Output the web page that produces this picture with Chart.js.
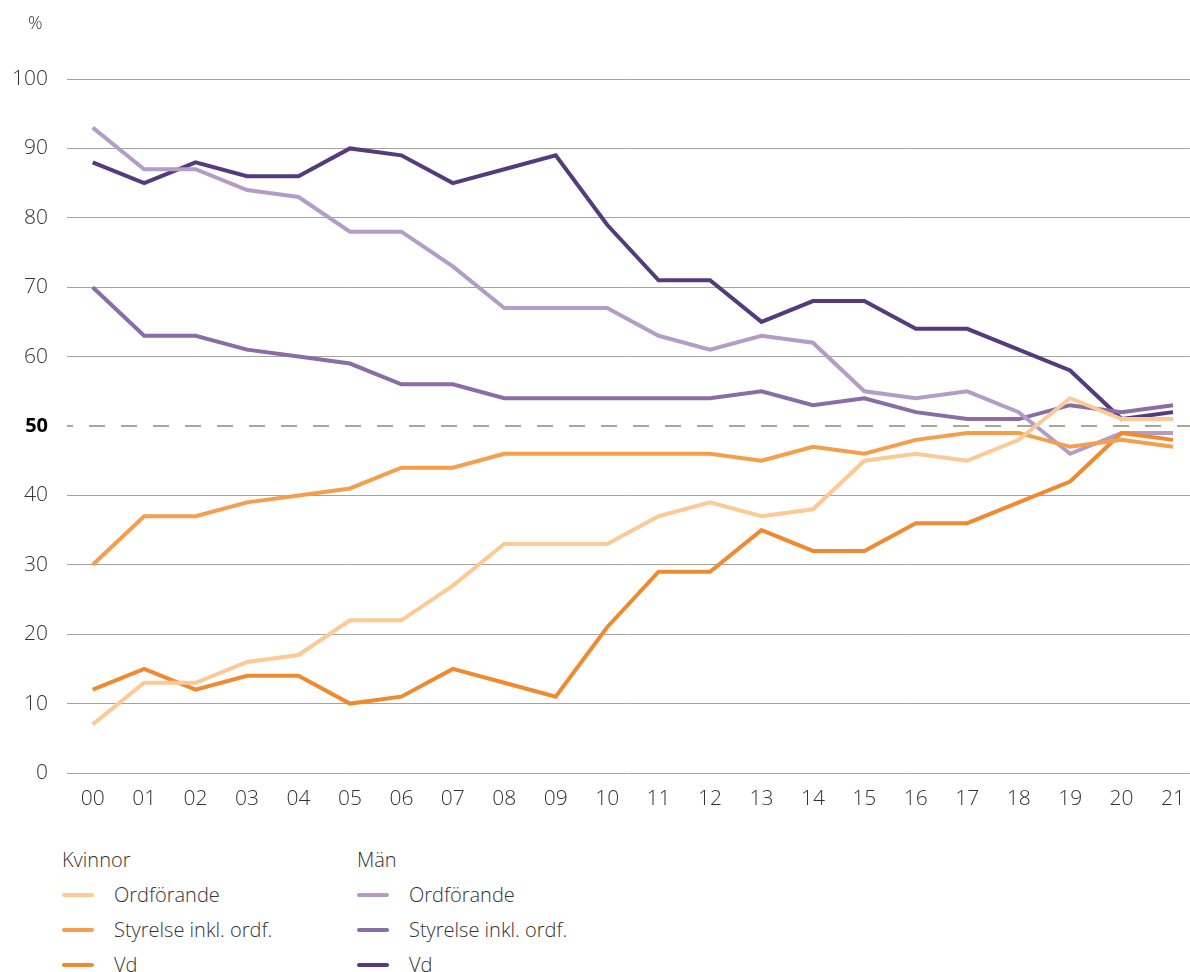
<!DOCTYPE html>
<html lang="sv">
<head>
<meta charset="utf-8">
<title>Andel kvinnor och män</title>
<script src="https://cdn.jsdelivr.net/npm/chart.js@4/dist/chart.umd.min.js"></script>
<style>
    body { margin: 0; background: #fff; font-family: 'Open Sans', sans-serif; font-weight: 300; color: #333; overflow: hidden; }
    #wrap { position: relative; width: 1190px; height: 972px; }
    #chartBox { position: absolute; left: 0; top: 0; width: 1190px; height: 821px; }
    #unit { position: absolute; left: 28px; top: 10px; font-size: 18px; }
    .legendCol { position: absolute; top: 846px; font-size: 20px; }
    .legendCol .head { height: 28px; line-height: 28px; margin-bottom: 3px; }
    .legendCol .item { height: 35px; line-height: 35px; display: flex; align-items: center; }
    .legendCol .swatch { width: 32px; height: 4px; border-radius: 2px; margin-right: 20px; }
</style>
</head>
<body>
<div id="wrap">
    <div id="chartBox"><canvas id="genderChart"></canvas></div>
    <div id="unit">%</div>
    <div class="legendCol" id="legendKvinnor" style="left:62px"></div>
    <div class="legendCol" id="legendMan" style="left:357px"></div>
</div>
<script>
const years = ['00', '01', '02', '03', '04', '05', '06', '07', '08', '09', '10',
               '11', '12', '13', '14', '15', '16', '17', '18', '19', '20', '21'];

const kvinnorOrdforande = [7, 13, 13, 16, 17, 22, 22, 27, 33, 33, 33, 37, 39, 37, 38, 45, 46, 45, 48, 54, 51, 51];
const kvinnorStyrelse   = [30, 37, 37, 39, 40, 41, 44, 44, 46, 46, 46, 46, 46, 45, 47, 46, 48, 49, 49, 47, 48, 47];
const kvinnorVd         = [12, 15, 12, 14, 14, 10, 11, 15, 13, 11, 21, 29, 29, 35, 32, 32, 36, 36, 39, 42, 49, 48];
const manOrdforande     = [93, 87, 87, 84, 83, 78, 78, 73, 67, 67, 67, 63, 61, 63, 62, 55, 54, 55, 52, 46, 49, 49];
const manStyrelse       = [70, 63, 63, 61, 60, 59, 56, 56, 54, 54, 54, 54, 54, 55, 53, 54, 52, 51, 51, 53, 52, 53];
const manVd             = [88, 85, 88, 86, 86, 90, 89, 85, 87, 89, 79, 71, 71, 65, 68, 68, 64, 64, 61, 58, 51, 52];

const yTicks = [0, 10, 20, 30, 40, 50, 60, 70, 80, 90, 100];
const referenceLine = 50;

const groups = [
    { title: 'Kvinnor', el: 'legendKvinnor', series: [
        { label: 'Ordförande', data: kvinnorOrdforande, color: '#fdc994' },
        { label: 'Styrelse inkl. ordf.', data: kvinnorStyrelse, color: '#f59e4c' },
        { label: 'Vd', data: kvinnorVd, color: '#f08a30' }
    ]},
    { title: 'Män', el: 'legendMan', series: [
        { label: 'Ordförande', data: manOrdforande, color: '#b39dc8' },
        { label: 'Styrelse inkl. ordf.', data: manStyrelse, color: '#8a6ca6' },
        { label: 'Vd', data: manVd, color: '#553a7e' }
    ]}
];

// legend in html, two columns
groups.forEach(g => {
    const box = document.getElementById(g.el);
    let html = '<div class="head">' + g.title + '</div>';
    g.series.forEach(s => {
        html += '<div class="item"><span class="swatch" style="background:' + s.color + '"></span>' + s.label + '</div>';
    });
    box.innerHTML = html;
});

const datasets = [];
groups.forEach(g => g.series.forEach(s => {
    datasets.push({
        label: g.title + ' ' + s.label,
        data: s.data.map((v, i) => ({ x: i, y: v })),
        borderColor: s.color,
        backgroundColor: s.color,
        borderWidth: 4,
        pointRadius: 0,
        tension: 0,
        fill: false
    });
}));

const dashedFifty = {
    id: 'dashedFifty',
    beforeDatasetsDraw(chart) {
        const { ctx, chartArea, scales } = chart;
        const y = scales.y.getPixelForValue(referenceLine);
        ctx.save();
        ctx.strokeStyle = '#a8a59b';
        ctx.lineWidth = 2;
        ctx.setLineDash([16, 16]);
        ctx.lineDashOffset = 10;
        ctx.beginPath();
        ctx.moveTo(chartArea.left, y);
        ctx.lineTo(chartArea.right, y);
        ctx.stroke();
        ctx.restore();
    }
};

const isFifty = c => !!(c && c.tick && c.tick.value === referenceLine);

const ctx = document.getElementById('genderChart').getContext('2d');

new Chart(ctx, {
    type: 'line',
    data: { datasets: datasets },
    plugins: [dashedFifty],
    options: {
        responsive: true,
        maintainAspectRatio: false,
        animation: false,
        layout: { padding: { top: 79, right: 0, bottom: 0, left: 0 } },
        plugins: {
            legend: { display: false },
            tooltip: { enabled: false }
        },
        scales: {
            x: {
                type: 'linear',
                min: -0.5,
                max: 21.33,
                afterBuildTicks: s => { s.ticks = years.map((_, i) => ({ value: i })); },
                afterFit: s => { s.height = 48; },
                grid: { display: false },
                border: { display: false },
                ticks: {
                    autoSkip: false,
                    maxRotation: 0,
                    padding: 5,
                    color: '#333',
                    font: { family: 'Open Sans', size: 21, weight: 300 },
                    callback: v => years[v]
                }
            },
            y: {
                min: 0,
                max: 100,
                afterBuildTicks: s => { s.ticks = yTicks.map(v => ({ value: v })); },
                afterFit: s => { s.width = 67; },
                grid: {
                    drawTicks: false,
                    color: c => isFifty(c) ? 'rgba(0,0,0,0)' : '#a3a3a3',
                    lineWidth: 1
                },
                border: { display: false },
                ticks: {
                    padding: 19,
                    color: c => isFifty(c) ? '#000' : '#333',
                    font: c => isFifty(c)
                        ? { family: 'Open Sans', size: 20, weight: 'bold' }
                        : { family: 'Open Sans', size: 21, weight: 300 }
                }
            }
        }
    }
});
</script>
</body>
</html>
